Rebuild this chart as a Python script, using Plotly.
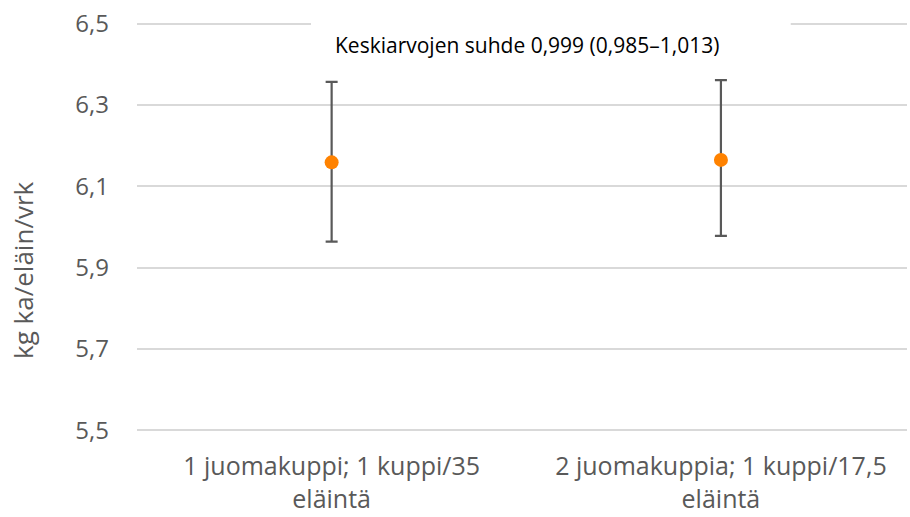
import plotly.graph_objects as go

categories = ["1 juomakuppi; 1 kuppi/35<br>eläintä", "2 juomakuppia; 1 kuppi/17,5<br>eläintä"]
means = [6.159, 6.165]
upper = [6.357, 6.361]
lower = [5.964, 5.978]
y_ticks = [5.5, 5.7, 5.9, 6.1, 6.3, 6.5]
y_tick_labels = ["5,5", "5,7", "5,9", "6,1", "6,3", "6,5"]
annotation_text = "Keskiarvojen suhde 0,999 (0,985–1,013)"
y_title = "kg ka/eläin/vrk"

err_plus = [u - m for u, m in zip(upper, means)]
err_minus = [m - l for m, l in zip(means, lower)]

FONT = "Open Sans"

fig = go.Figure()
fig.add_trace(go.Scatter(
    x=[0, 1], y=means, mode="markers",
    marker=dict(color="#FF8200", size=14),
    error_y=dict(type="data", symmetric=False, array=err_plus, arrayminus=err_minus,
                 color="#595959", thickness=2.2, width=6),
    showlegend=False, hoverinfo="skip",
))

# white box behind the annotation (hides the top gridline like the original text box)
fig.add_shape(type="rect", xref="paper", yref="paper", x0=0.226, x1=0.849, y0=0.975, y1=1.03,
              fillcolor="white", line=dict(width=0), layer="above")

fig.add_annotation(text=annotation_text, xref="paper", yref="paper", x=0.507, y=0.945,
                   xanchor="center", yanchor="middle",
                   showarrow=False, font=dict(family=FONT, size=21, color="#000000"))

# y-axis title
fig.add_annotation(text=y_title, xref="paper", yref="paper", x=-0.148, y=0.393,
                   xanchor="center", yanchor="middle", textangle=-90,
                   showarrow=False, font=dict(family=FONT, size=26, color="#595959"))

fig.update_layout(
    width=910, height=517,
    margin=dict(l=137, r=3, t=22.4, b=85.4),
    paper_bgcolor="white", plot_bgcolor="white",
    font=dict(family=FONT, color="#595959"),
)
fig.update_xaxes(
    tickmode="array", tickvals=[0, 1], ticktext=categories,
    range=[-0.5, 1.478], showgrid=False, zeroline=False, showline=False,
    tickfont=dict(size=25, color="#595959"), ticklabelstandoff=17,
)
fig.update_yaxes(
    tickmode="array", tickvals=y_ticks, ticktext=y_tick_labels,
    range=[5.496, 6.504], showgrid=True, gridcolor="#D9D9D9", gridwidth=2, zeroline=False,
    showline=False, tickfont=dict(size=24, color="#595959"), ticklabelstandoff=27,
)

fig.write_html("out.html", config={"displayModeBar": False},
               post_script="document.body.style.margin='0';")
